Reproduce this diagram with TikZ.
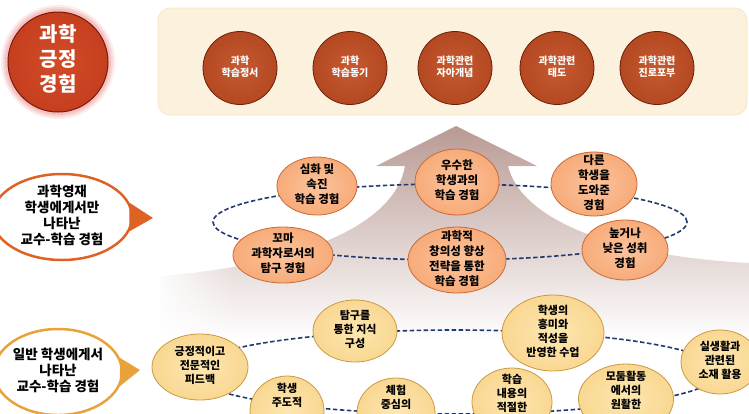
\documentclass[tikz,border=0pt]{standalone}
\usepackage{fontspec}
\setmainfont{Noto Sans CJK KR}
\usetikzlibrary{shapes.geometric,fadings}

\definecolor{navy}{HTML}{203A6B}
\definecolor{cream}{HTML}{FBF1DC}
\definecolor{creamline}{HTML}{F3E3C4}
\definecolor{redin}{HTML}{D24C28}
\definecolor{redmid}{HTML}{C23B1C}
\definecolor{redrim}{HTML}{992610}
\definecolor{redline}{HTML}{761A08}
\definecolor{glow}{HTML}{F3A8A8}
\definecolor{brin}{HTML}{C65A30}
\definecolor{brmid}{HTML}{B0451F}
\definecolor{brrim}{HTML}{8A2B0E}
\definecolor{brline}{HTML}{6A1D08}
\definecolor{salin}{HTML}{FCC39C}
\definecolor{salmid}{HTML}{F6A672}
\definecolor{salrim}{HTML}{E2844A}
\definecolor{salline}{HTML}{C86A3A}
\definecolor{goldin}{HTML}{FDE7B0}
\definecolor{goldmid}{HTML}{F8D48C}
\definecolor{goldrim}{HTML}{E8B256}
\definecolor{goldline}{HTML}{C99A40}
\definecolor{callA}{HTML}{DE6224}
\definecolor{callB}{HTML}{E9A23B}
\definecolor{arrtop}{HTML}{B99A94}
\definecolor{arrmid}{HTML}{DFD4D2}

\pgfdeclareradialshading{redsh}{\pgfpointorigin}{color(0bp)=(redin); color(32bp)=(redmid); color(46bp)=(redrim); color(50bp)=(redrim)}
\pgfdeclareradialshading{brsh}{\pgfpointorigin}{color(0bp)=(brin); color(30bp)=(brmid); color(45bp)=(brrim); color(50bp)=(brrim)}
\pgfdeclareradialshading{salsh}{\pgfpointorigin}{color(0bp)=(salin); color(30bp)=(salmid); color(46bp)=(salrim); color(50bp)=(salrim)}
\pgfdeclareradialshading{goldsh}{\pgfpointorigin}{color(0bp)=(goldin); color(30bp)=(goldmid); color(46bp)=(goldrim); color(50bp)=(goldrim)}

\tikzfading[name=fadeR, left color=transparent!0, right color=transparent!100]

\newcommand\tx[1]{\makebox[0pt]{\smash{\raisebox{-0.25em}{\begin{tabular}{@{}c@{}}#1\end{tabular}}}}}

\tikzset{
  bubbase/.style={ellipse, inner sep=0pt, line width=0.8pt},
  redc/.style={circle, inner sep=0pt, minimum size=100pt, shade, shading=redsh, draw=redline, line width=1pt, text=white, font=\fontsize{20}{25}\selectfont\bfseries},
  topc/.style={bubbase, shade, shading=brsh, draw=brline, minimum width=74pt, minimum height=73pt, text=white, font=\fontsize{10}{12.5}\selectfont\bfseries},
  upb/.style={bubbase, shade, shading=salsh, draw=salline, font=\fontsize{11.5}{15}\selectfont\bfseries},
  lowb/.style={bubbase, shade, shading=goldsh, draw=goldline, font=\fontsize{11}{14}\selectfont\bfseries},
  callout/.style={ellipse, inner sep=0pt, fill=white, line width=2.5pt, font=\fontsize{13.5}{15.5}\selectfont\bfseries},
  dashring/.style={draw=navy, line width=1.6pt, dash pattern=on 4.5pt off 2.5pt},
}

\begin{document}
\begin{tikzpicture}[x=1pt,y=-1pt]
\useasboundingbox (0,0) rectangle (749,413);

% rising arrow / mountain background
\shade[top color=arrtop, middle color=arrmid, bottom color=white]
  (456,126) -- (537,166) -- (508,166)
  .. controls (520,215) and (600,255) .. (749,263) -- (749,340) -- (160,340) -- (160,276)
  .. controls (300,265) and (395,225) .. (405,166) -- (376,166) -- cycle;
\fill[white, path fading=fadeR] (150,235) rectangle (235,345);

% top box
\fill[cream, draw=creamline, line width=0.6pt, rounded corners=12pt] (158,8) rectangle (747,115);

% big red circle with glow
\foreach \r/\o in {57/0.22,55/0.32,53/0.5}
  \fill[glow, opacity=\o] (58,62) circle[radius=\r pt];
\node[redc] (pos) at (58,62) {\tx{과학\\긍정\\경험}};

% top circles
\node[topc] (tc1) at (240,68) {\tx{과학\\학습정서}};
\node[topc] (tc2) at (350,68) {\tx{과학\\학습동기}};
\node[topc] (tc3) at (455,68) {\tx{과학관련\\자아개념}};
\node[topc] (tc4) at (557,68) {\tx{과학관련\\태도}};
\node[topc] (tc5) at (657,68) {\tx{과학관련\\진로포부}};

% dashed rings
\draw[dashring] (450,222) ellipse[x radius=237pt, y radius=38pt];
\draw[dashring] (455,372) ellipse[x radius=265pt, y radius=42pt];

% upper layer
\node[upb, minimum width=80pt, minimum height=58pt] (u1) at (317,186) {\tx{심화 및\\속진\\학습 경험}};
\node[upb, minimum width=84pt, minimum height=66pt] (u2) at (457,182) {\tx{우수한\\학생과의\\학습 경험}};
\node[upb, minimum width=86pt, minimum height=64pt] (u3) at (594,184) {\tx{다른\\학생을\\도와준\\경험}};
\node[upb, minimum width=100pt, minimum height=56pt] (u4) at (283,255) {\tx{꼬마\\과학자로서의\\탐구 경험}};
\node[upb, minimum width=98pt, minimum height=66pt] (u5) at (457,260) {\tx{과학적\\창의성 향상\\전략을 통한\\학습 경험}};
\node[upb, minimum width=86pt, minimum height=60pt] (u6) at (625,250) {\tx{높거나\\낮은 성취\\경험}};

% lower layer
\node[lowb, minimum width=96pt, minimum height=66pt] (l1) at (200,367) {\tx{긍정적이고\\전문적인\\피드백}};
\node[lowb, minimum width=84pt, minimum height=62pt] (l2) at (355,331) {\tx{탐구를\\통한 지식\\구성}};
\node[lowb, minimum width=102pt, minimum height=76pt] (l3) at (553,333) {\tx{학생의\\흥미와\\적성을\\반영한 수업}};
\node[lowb, minimum width=78pt, minimum height=64pt] (l4) at (720,362) {\tx{실생활과\\관련된\\소재 활용}};
\node[lowb, minimum width=74pt, minimum height=70pt] (l5) at (287,411) {\tx{학생\\주도적\\{}\\{}}};
\node[lowb, minimum width=78pt, minimum height=70pt] (l6) at (396,413) {\tx{체험\\중심의\\{}\\{}}};
\node[lowb, minimum width=80pt, minimum height=68pt] (l7) at (512,402) {\tx{학습\\내용의\\적절한\\{}}};
\node[lowb, minimum width=95pt, minimum height=70pt] (l8) at (626,399) {\tx{모둠활동\\에서의\\원활한\\{}}};

% callouts
\node[callout, draw=callA, minimum width=140pt, minimum height=86pt] (c1) at (62,217) {\tx{과학영재\\학생에게서만\\나타난\\교수-학습 경험}};
\coordinate (t1) at (153,218);
\fill[callA] (c1.12) -- (t1) -- (c1.-12) -- cycle;

\node[callout, draw=callB, minimum width=128pt, minimum height=86pt] (c2) at (58,372) {\tx{일반 학생에게서\\나타난\\교수-학습 경험}};
\coordinate (t2) at (140,370);
\fill[callB] (c2.13) -- (t2) -- (c2.-13) -- cycle;
\end{tikzpicture}
\end{document}
